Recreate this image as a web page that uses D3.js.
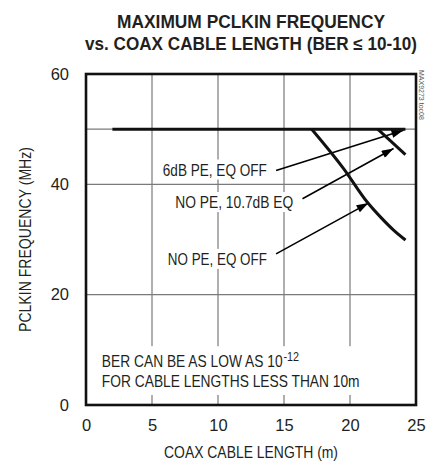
<!DOCTYPE html>
<html>
<head>
<meta charset="utf-8">
<script src="https://cdn.jsdelivr.net/npm/d3@7/dist/d3.min.js"></script>
<style>
body { margin: 0; background: #fff; }
svg { display: block; }
text { font-family: "Liberation Sans Narrow", "Liberation Sans", sans-serif; fill: #231f20; }
</style>
</head>
<body>
<div id="container"></div>
<script>
// axis ticks and grid
var xTicks = [0, 5, 10, 15, 20, 25];
var yTicks = [0, 20, 40, 60];
var xGrid = [5, 10, 15, 20];
var yGrid = [20, 40, 50];

// curves (cable length in m, PCLKIN frequency in MHz)
var pe6Length = [2, 24.2];
var pe6Freq = [50, 50];
var eq107Length = [22.1, 24.2];
var eq107Freq = [50, 45.4];
var eqOffLength = [17.1, 19.5, 21.3, 22.3, 23.3, 24.2];
var eqOffFreq = [50, 42.9, 36.8, 34.1, 31.7, 29.9];

var seriesNames = ["6dB PE, EQ OFF", "NO PE, 10.7dB EQ", "NO PE, EQ OFF"];

var W = 427, H = 463;
var margin = {top: 74, right: 11, bottom: 58, left: 86};
var width = W - margin.left - margin.right,
    height = H - margin.top - margin.bottom;

var x = d3.scaleLinear().domain([0, 25]).range([0, width]);
var y = d3.scaleLinear().domain([0, 60]).range([height, 0]);

var svg = d3.select("#container").append("svg")
    .attr("width", W)
    .attr("height", H);

//arrow head
svg.append("defs").append("marker")
    .attr("id", "arrow")
    .attr("markerUnits", "userSpaceOnUse")
    .attr("viewBox", "0 0 12 8")
    .attr("refX", 12).attr("refY", 4)
    .attr("markerWidth", 13).attr("markerHeight", 8)
    .attr("orient", "auto")
  .append("path")
    .attr("d", "M0,0L12,4L0,8Z")
    .attr("fill", "#000");

//squeeze a text to the width it has in the original
function fit(sel, len) {
    sel.attr("textLength", len).attr("lengthAdjust", "spacingAndGlyphs");
}

//Title
var title = svg.append("g").attr("font-weight", "bold").attr("text-anchor", "middle");
title.append("text")
    .attr("x", margin.left + width / 2).attr("y", 28)
    .attr("font-size", 17.5)
    .call(fit, 268)
    .text("MAXIMUM PCLKIN FREQUENCY");
title.append("text")
    .attr("x", margin.left + width / 2).attr("y", 50)
    .attr("font-size", 17.5)
    .call(fit, 332)
    .text("vs. COAX CABLE LENGTH (BER \u2264 10-10)");

var g = svg.append("g")
    .attr("transform", "translate(" + margin.left + "," + margin.top + ")");

//grid
g.selectAll(".xgrid").data(xGrid).enter().append("line")
    .attr("x1", x).attr("x2", x)
    .attr("y1", 0).attr("y2", height)
    .attr("stroke", "#7a7a7a").attr("stroke-width", 1.2);
g.selectAll(".ygrid").data(yGrid).enter().append("line")
    .attr("x1", 0).attr("x2", width)
    .attr("y1", y).attr("y2", y)
    .attr("stroke", "#7a7a7a").attr("stroke-width", 1.2);

//axes labels
var xAxis = d3.axisBottom(x).tickValues(xTicks).tickSize(0).tickPadding(14);
var yAxis = d3.axisLeft(y).tickValues(yTicks).tickSize(0).tickPadding(17);

var gx = g.append("g").attr("transform", "translate(0," + height + ")").call(xAxis);
var gy = g.append("g").call(yAxis);
[gx, gy].forEach(function(a) {
    a.select(".domain").remove();
    a.selectAll("text")
        .attr("font-family", null)
        .attr("font-size", 16.5)
        .attr("fill", null);
});

svg.append("text")
    .attr("x", margin.left + width / 2).attr("y", 458)
    .attr("text-anchor", "middle")
    .attr("font-size", 16.5)
    .call(fit, 174)
    .text("COAX CABLE LENGTH (m)");

svg.append("text")
    .attr("transform", "translate(31," + (margin.top + height / 2) + ") rotate(-90)")
    .attr("text-anchor", "middle")
    .attr("font-size", 16.5)
    .call(fit, 185)
    .text("PCLKIN FREQUENCY (MHz)");

//Annotations (positions in data units)
var annotations = [
    {text: seriesNames[0], len: 104, tx: 13.7, ty: 41.6, from: [14.4, 42.5], to: [24.05, 49.8]},
    {text: seriesNames[1], len: 118, tx: 15.7, ty: 35.7, from: [16.4, 37.4], to: [23.3, 46.5]},
    {text: seriesNames[2], len: 99, tx: 13.7, ty: 25.4, from: [14.4, 27.4], to: [21.4, 36.6]}
];

var labels = g.append("g");
annotations.forEach(function(a) {
    var t = labels.append("text")
        .attr("x", x(a.tx)).attr("y", y(a.ty))
        .attr("text-anchor", "end")
        .attr("font-size", 16.5)
        .call(fit, a.len)
        .text(a.text);
    var bb = t.node().getBBox();
    labels.insert("rect", "text")
        .attr("x", bb.x - 2).attr("y", bb.y - 1)
        .attr("width", bb.width + 4).attr("height", bb.height + 2)
        .attr("fill", "#fff");
});

//BER note, squeezed horizontally to the original's width
var noteBox = g.append("rect").attr("fill", "#fff");
var note = g.append("g");
var n1 = note.append("text")
    .attr("x", 0).attr("y", 0)
    .attr("font-size", 16);
n1.append("tspan").text("BER CAN BE AS LOW AS 10");
n1.append("tspan").attr("dx", 1).attr("dy", -6).attr("font-size", 12.5).text("-12");
var n2 = note.append("text")
    .attr("x", 0).attr("y", y(3.3) - y(6.9))
    .attr("font-size", 16)
    .text("FOR CABLE LENGTHS LESS THAN 10m");
var sx = 258 / n2.node().getComputedTextLength();
note.attr("transform", "translate(" + x(1.2) + "," + y(6.9) + ") scale(" + sx + ",1)");
var nb = note.node().getBBox();
noteBox
    .attr("x", x(1.2) + (nb.x - 3) * sx).attr("y", y(6.9) + nb.y - 3)
    .attr("width", (nb.width + 6) * sx).attr("height", nb.height + 8);

//arrows
g.selectAll(".arrow").data(annotations).enter().append("line")
    .attr("x1", function(d) { return x(d.from[0]); })
    .attr("y1", function(d) { return y(d.from[1]); })
    .attr("x2", function(d) { return x(d.to[0]); })
    .attr("y2", function(d) { return y(d.to[1]); })
    .attr("stroke", "#000").attr("stroke-width", 1.6)
    .attr("marker-end", "url(#arrow)");

//curves
var line = d3.line()
    .x(function(d) { return x(d[0]); })
    .y(function(d) { return y(d[1]); })
    .curve(d3.curveMonotoneX);

var series = [
    d3.zip(pe6Length, pe6Freq),
    d3.zip(eq107Length, eq107Freq),
    d3.zip(eqOffLength, eqOffFreq)
];
g.selectAll(".curve").data(series).enter().append("path")
    .attr("d", line)
    .attr("fill", "none")
    .attr("stroke", "#111")
    .attr("stroke-width", 3);

//frame
g.append("rect")
    .attr("width", width).attr("height", height)
    .attr("fill", "none")
    .attr("stroke", "#111").attr("stroke-width", 2.6);

//part number tag
svg.append("text")
    .attr("transform", "translate(419,70) rotate(90)")
    .attr("font-size", 7)
    .style("fill", "#555")
    .text("MAX9273 toc08");
</script>
</body>
</html>
